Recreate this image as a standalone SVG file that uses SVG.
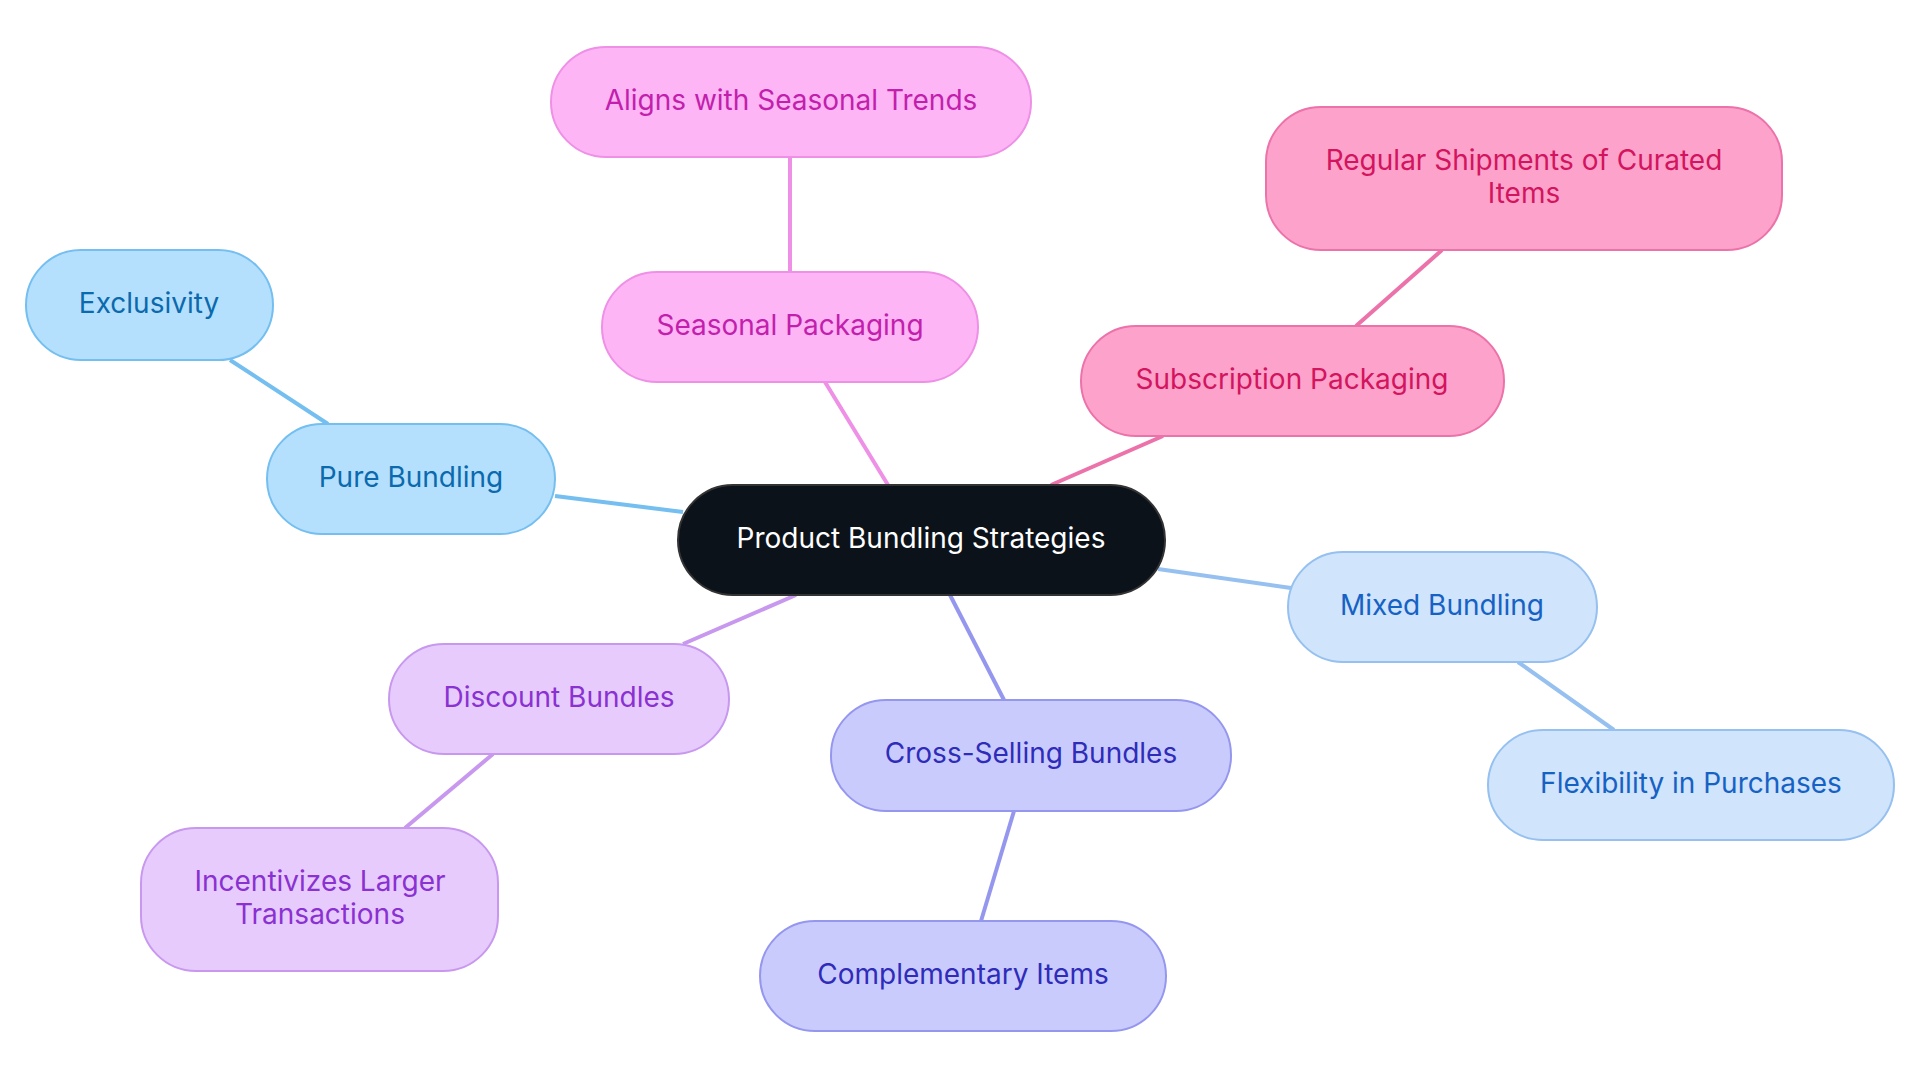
<svg xmlns="http://www.w3.org/2000/svg" width="1920" height="1083" viewBox="0 0 1920 1083">
<style>
text{font-family:Inter,"Open Sans","Liberation Sans",sans-serif;font-size:28px;text-anchor:middle;dominant-baseline:central}
.e{stroke-width:4;fill:none}
.b rect{fill:#b5e0fd;stroke:#74bef0;stroke-width:2}.b text{fill:#0b6aad}
.p rect{fill:#feb5f6;stroke:#ee90e6;stroke-width:2}.p text{fill:#c21fad}
.r rect{fill:#fda3cb;stroke:#ec72aa;stroke-width:2}.r text{fill:#d3145e}
.l rect{fill:#d0e4fb;stroke:#96c0ef;stroke-width:2}.l text{fill:#1662c4}
.i rect{fill:#cacbfd;stroke:#9597ef;stroke-width:2}.i text{fill:#2e2cb8}
.v rect{fill:#e8cbfd;stroke:#c898ef;stroke-width:2}.v text{fill:#8a31d1}
</style>
<rect width="1920" height="1083" fill="#fff"/>
<g id="connectors">
<line class="e" stroke="#74bef0" x1="683" y1="512" x2="555" y2="496"/>
<line class="e" stroke="#74bef0" x1="328" y1="424" x2="230" y2="360"/>
<line class="e" stroke="#ee90e6" x1="888" y1="485" x2="825" y2="382"/>
<line class="e" stroke="#ee90e6" x1="790" y1="272" x2="790" y2="157"/>
<line class="e" stroke="#ec72aa" x1="1051" y1="485" x2="1163" y2="436"/>
<line class="e" stroke="#ec72aa" x1="1356" y1="326" x2="1442" y2="250"/>
<line class="e" stroke="#96c0ef" x1="1158" y1="569" x2="1291" y2="588"/>
<line class="e" stroke="#96c0ef" x1="1518" y1="662" x2="1614" y2="730"/>
<line class="e" stroke="#9597ef" x1="950" y1="595" x2="1004" y2="700"/>
<line class="e" stroke="#9597ef" x1="1014" y1="811" x2="981" y2="921"/>
<line class="e" stroke="#c898ef" x1="796" y1="595" x2="683" y2="644"/>
<line class="e" stroke="#c898ef" x1="493" y1="754" x2="405" y2="828"/>
</g>
<g id="center"><rect x="678" y="485" width="487" height="110" rx="55" fill="#0c121a" stroke="#333" stroke-width="2"/><text x="921" y="538" fill="#fff">Product Bundling Strategies</text></g>
<g id="pure" class="b"><rect x="267" y="424" width="288" height="110" rx="55"/><text x="411" y="477">Pure Bundling</text></g>
<g id="excl" class="b"><rect x="26" y="250" width="247" height="110" rx="55"/><text x="149" y="303">Exclusivity</text></g>
<g id="seasonal" class="p"><rect x="602" y="272" width="376" height="110" rx="55"/><text x="790" y="325">Seasonal Packaging</text></g>
<g id="aligns" class="p"><rect x="551" y="47" width="480" height="110" rx="55"/><text x="791" y="100">Aligns with Seasonal Trends</text></g>
<g id="subscr" class="r"><rect x="1081" y="326" width="423" height="110" rx="55"/><text x="1292" y="379">Subscription Packaging</text></g>
<g id="regular" class="r"><rect x="1266" y="107" width="516" height="143" rx="55"/><text x="1524" y="160">Regular Shipments of Curated</text><text x="1524" y="193">Items</text></g>
<g id="mixed" class="l"><rect x="1288" y="552" width="309" height="110" rx="55"/><text x="1442" y="605">Mixed Bundling</text></g>
<g id="flex" class="l"><rect x="1488" y="730" width="406" height="110" rx="55"/><text x="1691" y="783">Flexibility in Purchases</text></g>
<g id="cross" class="i"><rect x="831" y="700" width="400" height="111" rx="55"/><text x="1031" y="753">Cross-Selling Bundles</text></g>
<g id="comp" class="i"><rect x="760" y="921" width="406" height="110" rx="55"/><text x="963" y="974">Complementary Items</text></g>
<g id="discount" class="v"><rect x="389" y="644" width="340" height="110" rx="55"/><text x="559" y="697">Discount Bundles</text></g>
<g id="incent" class="v"><rect x="141" y="828" width="357" height="143" rx="55"/><text x="320" y="881">Incentivizes Larger</text><text x="320" y="914">Transactions</text></g>
</svg>
